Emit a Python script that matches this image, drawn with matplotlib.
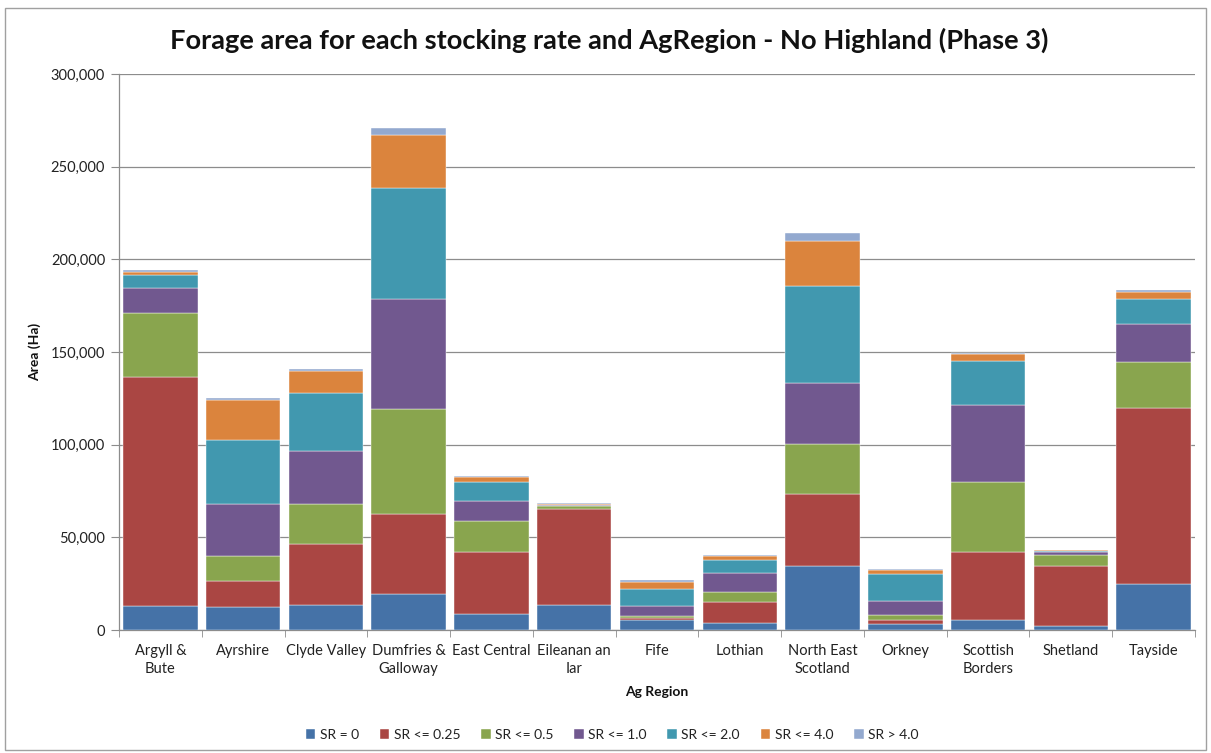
import matplotlib
matplotlib.use("Agg")
import matplotlib.pyplot as plt
from matplotlib.patches import Rectangle
from matplotlib.ticker import FuncFormatter, FixedLocator
import numpy as np

plt.rcParams['font.family'] = ['Lato', 'DejaVu Sans']

regions = ["Argyll &\nBute", "Ayrshire", "Clyde Valley", "Dumfries &\nGalloway",
           "East Central", "Eileanan an\nIar", "Fife", "Lothian",
           "North East\nScotland", "Orkney", "Scottish\nBorders", "Shetland", "Tayside"]

series_names = ["SR = 0", "SR <= 0.25", "SR <= 0.5", "SR <= 1.0", "SR <= 2.0", "SR <= 4.0", "SR > 4.0"]

sr_0    = [13200, 12600, 13600, 19600, 8500, 13500, 5600, 3800, 34800, 3200, 5600, 2300, 25000]
sr_025  = [123400, 13600, 33000, 43000, 33700, 52000, 1000, 11300, 38700, 2000, 36700, 32100, 94800]
sr_05   = [34400, 13800, 21200, 56400, 16600, 1300, 1100, 5200, 26900, 2900, 37300, 6100, 24700]
sr_10   = [13600, 27800, 28600, 59400, 10900, 500, 5200, 10600, 33100, 7400, 41700, 1800, 20700]
sr_20   = [6800, 34600, 31400, 60200, 10300, 400, 9000, 6800, 52300, 14600, 23600, 400, 13400]
sr_40   = [2000, 21600, 12000, 28400, 2700, 200, 4100, 2000, 24100, 2300, 4100, 200, 3700]
sr_gt4  = [600, 1200, 1000, 3600, 600, 700, 1100, 500, 4300, 600, 400, 300, 900]

series = [sr_0, sr_025, sr_05, sr_10, sr_20, sr_40, sr_gt4]
colors = ["#4572A7", "#AA4643", "#89A54E", "#71588F", "#4198AF", "#DB843D", "#93A9CF"]

W, H = 1211, 753
fig = plt.figure(figsize=(W / 100, H / 100), dpi=100)
fig.patch.set_facecolor("white")

# outer chart border
fig.add_artist(Rectangle((5 / W, 3 / H), 1201 / W, 742 / H, transform=fig.transFigure,
                         fill=False, edgecolor="#A0A0A0", linewidth=1.0))

ax = fig.add_axes([119 / W, 1 - 630 / H, (1195 - 119) / W, (630 - 74) / H])
x = np.arange(len(regions))
bottom = np.zeros(len(regions))
for name, vals, c in zip(series_names, series, colors):
    ax.bar(x, vals, width=0.9, bottom=bottom, color=c, label=name,
           edgecolor="white", linewidth=0.3, zorder=3)
    bottom += np.array(vals)

ax.set_xlim(-0.5, len(regions) - 0.5)
ax.set_ylim(0, 300000)
ax.set_yticks(np.arange(0, 300001, 50000))
ax.yaxis.set_major_formatter(FuncFormatter(lambda v, p: f"{int(v):,}"))
ax.grid(axis="y", color="#8C8C8C", linewidth=0.9, zorder=0)
ax.set_axisbelow(True)

ax.set_xticks(x)
ax.set_xticklabels(regions, fontsize=10.5, color="#222222", linespacing=1.35)
ax.xaxis.set_minor_locator(FixedLocator(np.arange(-0.5, len(regions), 1.0)))
ax.tick_params(axis="x", which="major", length=0, pad=10)
ax.tick_params(axis="x", which="minor", length=5, color="#8C8C8C", direction="out")
ax.tick_params(axis="y", length=6, color="#8C8C8C", labelsize=10.5, labelcolor="#222222", pad=4)

for s in ["top", "right"]:
    ax.spines[s].set_visible(False)
for s in ["left", "bottom"]:
    ax.spines[s].set_color("#8C8C8C")
    ax.spines[s].set_linewidth(0.9)

fig.text(609 / W, 1 - 40 / H, "Forage area for each stocking rate and AgRegion - No Highland (Phase 3)",
         ha="center", va="center", fontsize=19.6, fontweight="bold", color="#111111")
fig.text(35 / W, 1 - 352 / H, "Area (Ha)", rotation=90, ha="center", va="center",
         fontsize=10, fontweight="bold", color="#111111")
fig.text(657 / W, 1 - 692 / H, "Ag Region", ha="center", va="center",
         fontsize=10, fontweight="bold", color="#111111")

handles, labels = ax.get_legend_handles_labels()
leg = fig.legend(handles, labels, loc="center", bbox_to_anchor=(612 / W, 1 - 735 / H),
                 ncol=7, frameon=False, fontsize=10, handlelength=0.7, handleheight=0.7,
                 handletextpad=0.3, columnspacing=1.5)
for t in leg.get_texts():
    t.set_color("#222222")

fig.savefig("out.png", dpi=100, facecolor="white")
